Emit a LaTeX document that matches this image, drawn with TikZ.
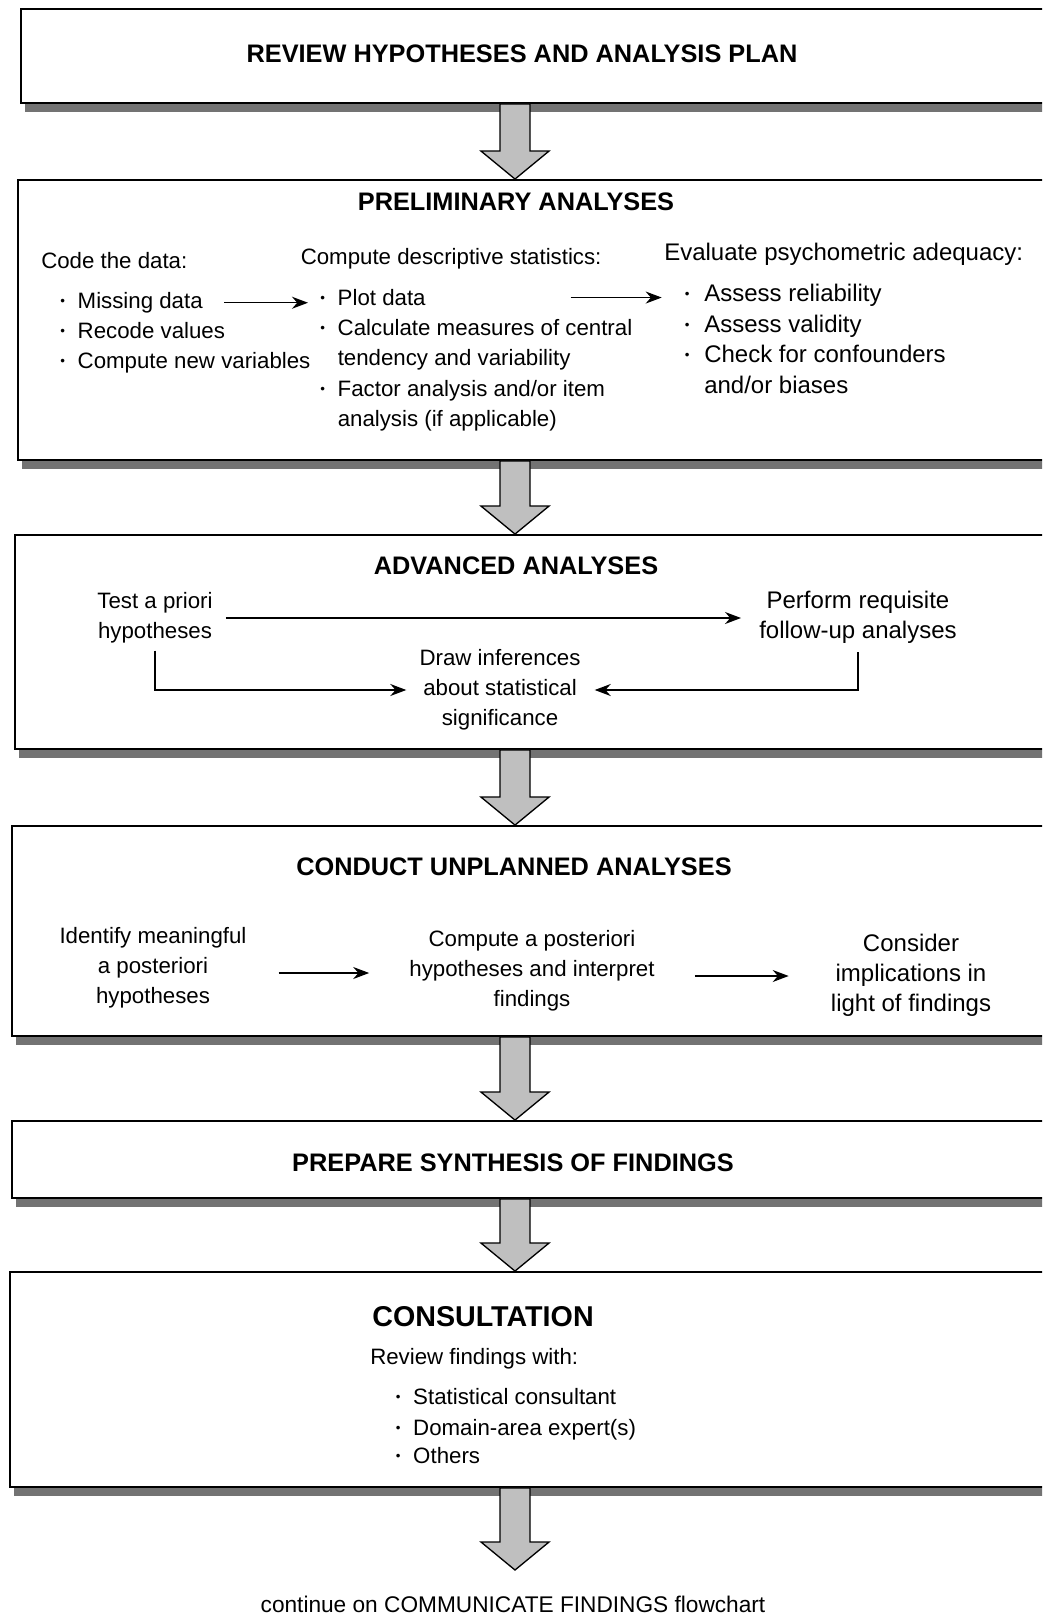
\documentclass[tikz,border=0pt]{standalone}
\usepackage{fontspec}
\setmainfont{Liberation Sans}
\usetikzlibrary{arrows.meta,calc,fit}
\newcommand\bul{\raisebox{0.25ex}{\fontsize{10}{10}\selectfont\textbullet}}
\newcommand\bitem[1]{\makebox[13.1pt][l]{\bul}#1}
\newcommand\bitemR[1]{\makebox[14.5pt][l]{\bul}#1}
\newcommand\blockarrow[2]{%
  \draw[barrow] ($(#1.south -| axis)+(-15,0)$) -- ($(#2 -| axis)+(-15,-28)$) -- ($(#2 -| axis)+(-34,-28)$) -- (#2 -| axis) -- ($(#2 -| axis)+(34,-28)$) -- ($(#2 -| axis)+(15,-28)$) -- ($(#1.south -| axis)+(15,0)$) -- cycle;}
\newcommand\boxshadow[1]{%
  \fill[boxshade] ($(#1.south west)+(5,0)$) rectangle ($(#1.south east)+(0,8)$);}
\tikzset{
  box/.style={draw,line width=1.4pt,fill=white,inner sep=0pt},
  boxshade/.style={fill=black!55},
  title/.style={font=\fontsize{19}{22}\selectfont\bfseries,inner sep=0pt},
  bigtitle/.style={font=\fontsize{21.5}{24}\selectfont\bfseries,inner sep=0pt},
  txt/.style={font=\fontsize{16.7}{22.5}\selectfont,inner sep=0pt},
  txtR/.style={font=\fontsize{18}{22.5}\selectfont,inner sep=0pt},
  textline/.style={txt,anchor=base west},
  textlineR/.style={txtR,anchor=base west},
  blk/.style={txt,align=center},
  blkR/.style={txtR,align=center},
  conn/.style={line width=1.1pt,-{Stealth[length=12pt,width=9pt]}},
  barrow/.style={draw,line width=1pt,fill=black!25,line join=miter},
}
\begin{document}
\begin{tikzpicture}[x=0.75pt,y=-0.75pt]
\useasboundingbox (0,0) rectangle (1042,1620);
\clip (0,0) rectangle (1042,1620);
\coordinate (axis) at (515,0);
% boxes
\node[box, fit={(21,9) (1060,103)}] (b1) {};
\node[box, fit={(18,180) (1060,460)}] (b2) {};
\node[box, fit={(15,535) (1060,749)}] (b3) {};
\node[box, fit={(12,826) (1060,1036)}] (b4) {};
\node[box, fit={(12,1121) (1060,1198)}] (b5) {};
\node[box, fit={(10,1272) (1060,1487)}] (b6) {};
\boxshadow{b1}\boxshadow{b2}\boxshadow{b3}\boxshadow{b4}\boxshadow{b5}\boxshadow{b6}
\coordinate (endtip) at (513,1570);
% block arrows
\blockarrow{b1}{b2.north}
\blockarrow{b2}{b3.north}
\blockarrow{b3}{b4.north}
\blockarrow{b4}{b5.north}
\blockarrow{b5}{b6.north}
\blockarrow{b6}{endtip}
% box 1
\node[title] (t1) at (522,54) {REVIEW HYPOTHESES AND ANALYSIS PLAN};
% box 2
\node[title] (t2) at (516,202) {PRELIMINARY ANALYSES};
\node[textline] (c1h) at (41,268) {Code the data:};
\node[textline] (c1a) at (60,308.5) {\bitem{Missing data}};
\node[textline] (c1b) at (60,338.5) {\bitem{Recode values}};
\node[textline] (c1c) at (60,368.4) {\bitem{Compute new variables}};
\node[textline] (c2h) at (300.5,264) {Compute descriptive statistics:};
\node[textline] (c2a) at (320,305.5) {\bitem{Plot data}};
\node[textline] (c2b) at (320,335.4) {\bitem{Calculate measures of central}};
\node[textline] (c2c) at (337.5,365.3) {tendency and variability};
\node[textline] (c2d) at (320,396.3) {\bitem{Factor analysis and/or item}};
\node[textline] (c2e) at (337.5,426.3) {analysis (if applicable)};
\node[textlineR] (c3h) at (664,260) {Evaluate psychometric adequacy:};
\node[textlineR] (c3a) at (684.7,301.3) {\bitemR{Assess reliability}};
\node[textlineR] (c3b) at (684.7,332.3) {\bitemR{Assess validity}};
\node[textlineR] (c3c) at (684.7,362.2) {\bitemR{Check for confounders}};
\node[textlineR] (c3d) at (704,393.2) {and/or biases};
\draw[conn] ($(c1a.east)+(21,0)$) -- ($(c1a.east -| c2a.west)+(-12,0)$);
\draw[conn] ($(c2a.east -| c3a.west)+(-114,0)$) -- ($(c2a.east -| c3a.west)+(-23,0)$);
% box 3
\node[title] (t3) at (516,566) {ADVANCED ANALYSES};
\node[blk] (ta) at (155,618) {Test a priori\\hypotheses};
\node[blkR] (pr) at (858,617) {Perform requisite\\follow-up analyses};
\node[blk] (di) at (500,690) {Draw inferences\\about statistical\\significance};
\draw[conn] ($(ta.east)+(13,0)$) -- ($(ta.east -| pr.west)+(-18,0)$);
\draw[conn] ($(ta.south)+(0,7)$) |- ($(di.west)+(-13,0)$);
\draw[conn] ($(pr.south)+(0,9)$) |- ($(di.east)+(14,0)$);
% box 4
\node[title] (t4) at (514,867) {CONDUCT UNPLANNED ANALYSES};
\node[blk] (id) at (153,968) {Identify meaningful\\a posteriori\\hypotheses};
\node[blk] (cp) at (532,971) {Compute a posteriori\\hypotheses and interpret\\findings};
\node[blkR] (co) at (911,975) {Consider\\implications in\\light of findings};
\draw[conn] ($(cp.west -| id.east)+(32,2)$) -- ($(cp.west)+(-40,2)$);
\draw[conn] ($(co.west -| cp.east)+(40,1)$) -- ($(co.west)+(-42,1)$);
% box 5
\node[title] (t5) at (513,1163) {PREPARE SYNTHESIS OF FINDINGS};
% box 6
\node[bigtitle] (t6) at (483,1317) {CONSULTATION};
\node[textline] (rf) at (370,1364) {Review findings with:};
\node[textline] (r1) at (395.5,1404) {\bitem{Statistical consultant}};
\node[textline] (r2) at (395.5,1435) {\bitem{Domain-area expert(s)}};
\node[textline] (r3) at (395.5,1463) {\bitem{Others}};
% continuation
\node[txt,font=\fontsize{17}{20}\selectfont] (cont) at (513,1604) {continue on COMMUNICATE FINDINGS flowchart};
\end{tikzpicture}
\end{document}
